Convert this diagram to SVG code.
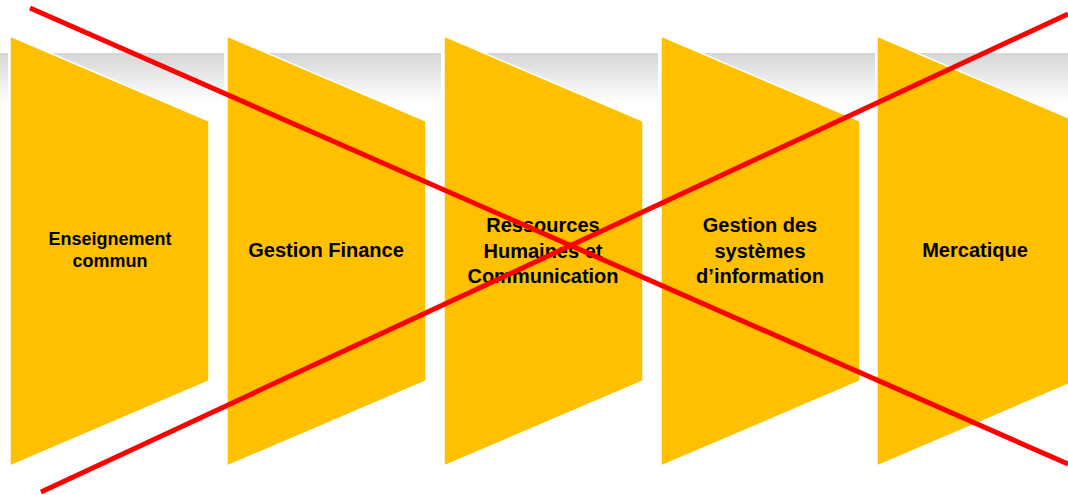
<svg xmlns="http://www.w3.org/2000/svg" width="1068" height="495" viewBox="0 0 1068 495">
  <defs>
    <linearGradient id="band" x1="0" y1="0" x2="0" y2="1">
      <stop offset="0" stop-color="#d6d6d6"/>
      <stop offset="1" stop-color="#ffffff"/>
    </linearGradient>
  </defs>
  <style>
    .band { fill: url(#band); }
    .shape { fill: #FFC000; stroke: #ffffff; stroke-width: 1.5; stroke-linejoin: miter; }
    .lbl { font-family: "Liberation Sans", Arial, sans-serif; font-weight: bold; font-size: 20px; fill: #000000; text-anchor: middle; }
    .small { font-size: 18px; }
    .cross { stroke: #FF0000; stroke-width: 5; stroke-linecap: butt; }
  </style>
  <rect width="1068" height="495" fill="#ffffff"/>
  <g id="band-strip">
    <rect class="band" x="0" y="53" width="8" height="50"/>
    <rect class="band" x="10" y="53" width="214" height="50"/>
    <rect class="band" x="227" y="53" width="214" height="50"/>
    <rect class="band" x="444" y="53" width="214" height="50"/>
    <rect class="band" x="661" y="53" width="214" height="50"/>
    <rect class="band" x="877" y="53" width="191" height="50"/>
  </g>
  <g id="node-enseignement">
    <polygon class="shape" points="10,36 209,121 209,381 10,466"/>
    <text class="lbl small" x="110" y="245">Enseignement</text>
    <text class="lbl small" x="110" y="267">commun</text>
  </g>
  <g id="node-finance">
    <polygon class="shape" points="227,36 426,121 426,381 227,466"/>
    <text class="lbl" x="326" y="257">Gestion Finance</text>
  </g>
  <g id="node-rh">
    <polygon class="shape" points="444,36 643,121 643,381 444,466"/>
    <text class="lbl" x="543" y="232">Ressources</text>
    <text class="lbl" x="543" y="258">Humaines et</text>
    <text class="lbl" x="543" y="283">Communication</text>
  </g>
  <g id="node-si">
    <polygon class="shape" points="661,36 860,121 860,381 661,466"/>
    <text class="lbl" x="760" y="232">Gestion des</text>
    <text class="lbl" x="760" y="258">systèmes</text>
    <text class="lbl" x="760" y="283">d’information</text>
  </g>
  <g id="node-mercatique">
    <polygon class="shape" points="877,36 1076,121 1076,381 877,466"/>
    <text class="lbl" x="975" y="257">Mercatique</text>
  </g>
  <g id="connectors">
    <line class="cross" x1="30" y1="8" x2="1068" y2="464"/>
    <line class="cross" x1="41" y1="492" x2="1068" y2="14"/>
  </g>
</svg>
